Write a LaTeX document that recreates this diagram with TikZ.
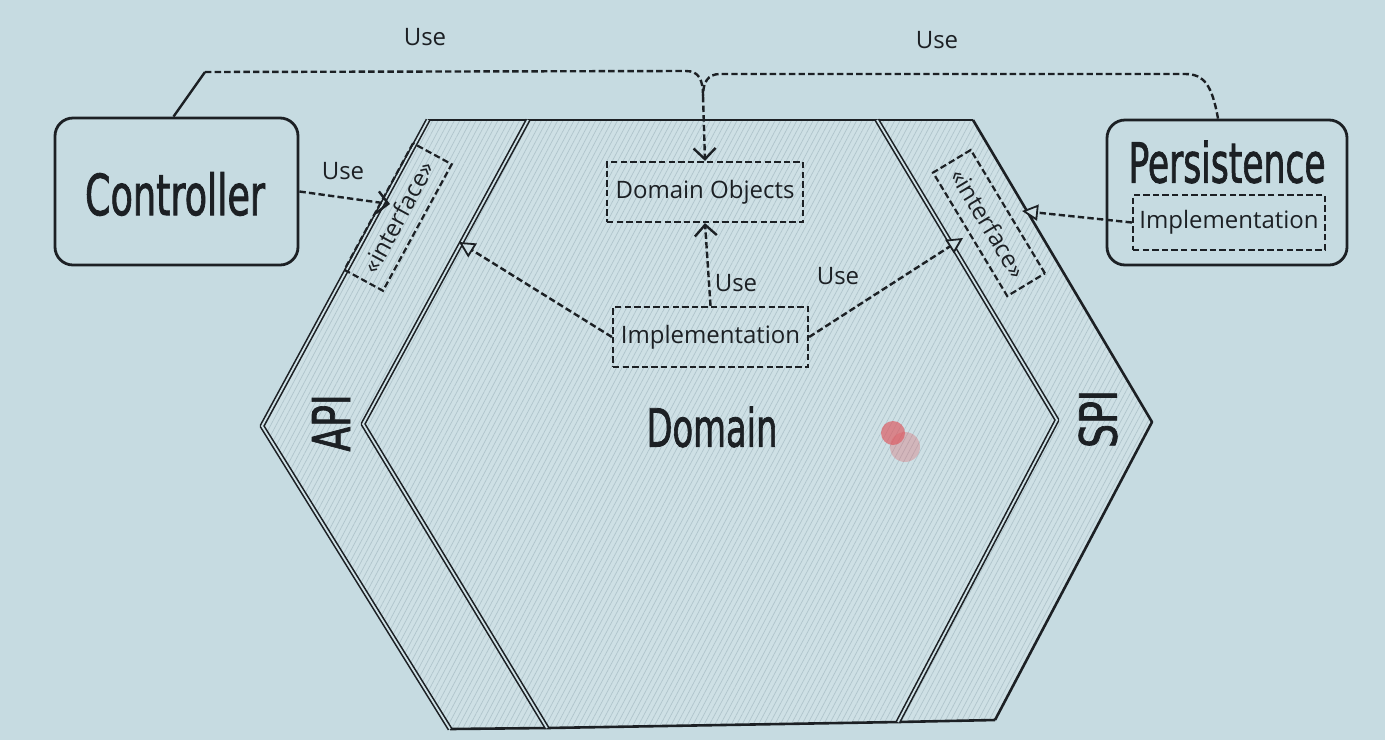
\documentclass[tikz,border=0pt]{standalone}
\usepackage{fontspec}
\setmainfont{Open Sans}
\newfontfamily\condfont[FakeBold=1.6]{DejaVu Sans Condensed}
\usetikzlibrary{arrows.meta,patterns.meta,calc}
\definecolor{bg}{RGB}{198,219,225}
\definecolor{hexfill}{RGB}{206,224,229}
\definecolor{hatch}{RGB}{176,197,204}
\definecolor{ink}{RGB}{28,32,36}
\definecolor{laser}{RGB}{222,85,92}
\tikzset{
  hexedge/.style={draw=ink, line width=1.3pt, line join=round},
  dbledge/.style={draw=ink, line width=0.8pt, double=hexfill, double distance=0.9pt, line join=round},
  bigbox/.style={draw=ink, line width=1.4pt, rounded corners=9pt},
  dashbox/.style={draw=ink, line width=1.1pt, dash pattern=on 3.2pt off 1.6pt, inner sep=0pt},
  conn/.style={draw=ink, line width=1.2pt, dash pattern=on 3.2pt off 1.6pt},
  usearrow/.style={conn, -{Straight Barb[length=5.5pt,width=11pt,line width=1.2pt]}},
  realize/.style={conn, -{Triangle[open,length=8pt,width=8pt,line width=0.9pt,fill=hexfill]}},
  lbl/.style={font=\fontsize{12}{14}\selectfont, text=ink, inner sep=1pt},
  small/.style={font=\fontsize{12}{14}\selectfont, text=ink},
  iface/.style={dashbox, font=\fontsize{12}{14}\selectfont, text=ink, minimum width=72pt, minimum height=22pt},
  bigtxt/.style={text=ink, inner sep=0pt},
}
\begin{document}
\begin{tikzpicture}[x=0.5pt,y=-0.5pt]
\path[use as bounding box, fill=bg] (0,0) rectangle (1385,740);

% ---- hexagon areas
\path[fill=hexfill] (428,120) -- (973,120) -- (1152,422) -- (995,720) -- (450,729) -- (262,426) -- cycle;
\path[pattern={Lines[angle=62,distance=2.4pt,line width=0.35pt]}, pattern color=hatch]
  (428,120) -- (973,120) -- (1152,422) -- (995,720) -- (450,729) -- (262,426) -- cycle;
% laser pointer dot
\fill[laser, opacity=0.3] (905,447) circle (7.5pt);
\fill[laser, opacity=0.65] (893,433) circle (6pt);

% edges
\draw[hexedge] (428,120) -- (973,120);
\draw[hexedge] (450,729) -- (547,728) -- (898,722) -- (995,720);
\draw[hexedge] (973,120) -- (1152,422) -- (995,720);
\draw[dbledge] (428,120) -- (262,426) -- (450,729);
\draw[dbledge] (528,120) -- (363,424) -- (547,728);
\draw[dbledge] (877,120) -- (1057,420) -- (898,722);

% ---- labels of regions
\node[bigtxt] (apilbl) at (331,423) {\rotatebox{90}{\resizebox{28.5pt}{19pt}{\condfont API}}};
\node[bigtxt] (spilbl) at (1098,419) {\rotatebox{90}{\resizebox{29pt}{19pt}{\condfont SPI}}};
\node[bigtxt] (domlbl) at (712,427) {\resizebox{65.5pt}{20pt}{\condfont Domain}};

% ---- outer boxes
\node[bigbox, minimum width=121.5pt, minimum height=73.5pt] (ctrl) at (176.5,191.5) {};
\node[bigtxt] (ctrllbl) at (175,194) {\resizebox{90pt}{21.5pt}{\condfont Controller}};
\node[bigbox, minimum width=120pt, minimum height=72.5pt] (pers) at (1227,192.5) {};
\node[bigtxt] (perslbl) at (1227,162) {\resizebox{98.5pt}{21pt}{\condfont Persistence}};
\node[dashbox, small, minimum width=96pt, minimum height=27.5pt] (pimpl) at (1229,222.5) {Implementation};

% ---- domain boxes
\node[dashbox, small, minimum width=98pt, minimum height=30pt] (dobj) at (705,192) {Domain Objects};
\node[dashbox, small, minimum width=97.5pt, minimum height=30pt] (impl) at (710.5,337) {Implementation};

% ---- interfaces
\node[iface, rotate=61.5] (apiif) at (398,217) {«interface»};
\node[iface, rotate=-59] (spiif) at (989,223) {«interface»};

% ---- connector end points
\coordinate (apiIn) at (390,204);
\coordinate (apiOut) at (459,242);
\coordinate (spiOut) at (963,238);
\coordinate (spiIn) at (1022,211);
\coordinate (cbend) at (205,72);
\coordinate (join) at (703,96);

% ---- connectors
\draw[usearrow] (ctrl.east) -- (apiIn);
\node[lbl] (use1) at (343,171) {Use};
\draw[realize] (impl.west) -- (apiOut);
\draw[realize] (impl.east) -- (spiOut);
\node[lbl] (use2) at (838,276) {Use};
\draw[usearrow] (impl.north) -- (dobj.south);
\node[lbl] (use3) at (736,283) {Use};
\draw[realize] (pimpl.west) -- (spiIn);

\draw[draw=ink, line width=1.2pt] ($(ctrl.north)+(-3,0)$) -- (cbend);
\draw[conn] (cbend) -- (686,71) .. controls (699,71) and (703,80) .. (join);
\draw[conn] ($(pers.north)+(-9,0)$) .. controls (1212,85) and (1204,74) .. (1185,74) -- (720,74) .. controls (708,74) and (703,82) .. (join);
\draw[usearrow] (join) -- (dobj.north);
\node[lbl] (use4) at (425,37) {Use};
\node[lbl] (use5) at (937,40) {Use};
\end{tikzpicture}
\end{document}
